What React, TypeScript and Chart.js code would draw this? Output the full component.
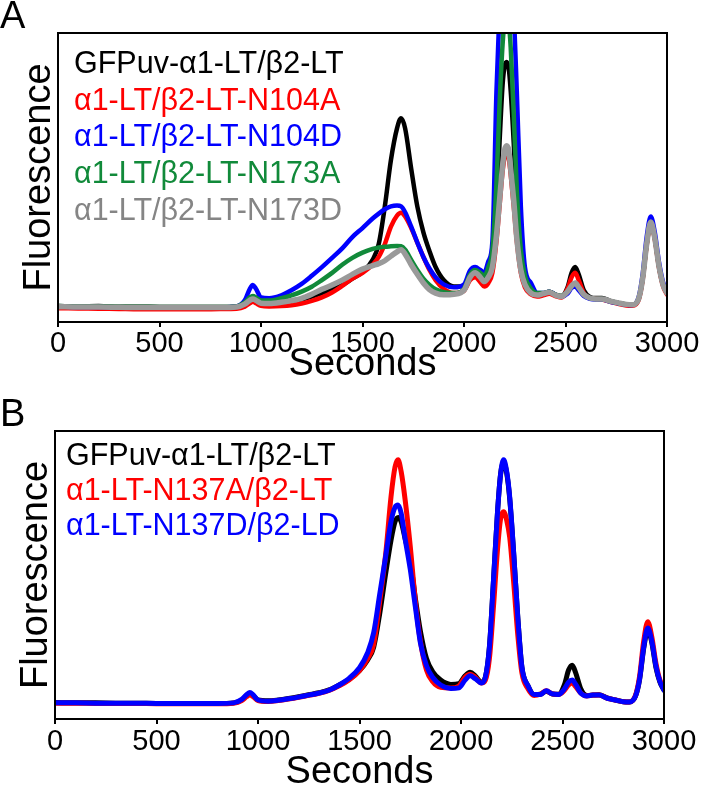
import React, { useEffect, useRef } from "react";
import { Chart, registerables } from "chart.js";

Chart.register(...registerables);

const FONT = "'Liberation Sans', Arial, sans-serif";

// ---------- Panel A ----------
const secondsA = [
  0, 100, 200, 300, 400, 500, 600, 700, 800,
  880, 920, 945, 960, 975,
  1000, 1040, 1100, 1150, 1200,
  1250, 1300, 1350, 1400, 1450,
  1500, 1550, 1580, 1610, 1640,
  1670, 1690, 1710, 1740, 1770,
  1800, 1830, 1860, 1900, 1950,
  2000, 2030, 2055, 2080, 2100,
  2120, 2140, 2160, 2175, 2190,
  2200, 2210, 2220, 2230, 2245,
  2260, 2280, 2300, 2330, 2360,
  2390, 2420, 2450, 2480, 2510,
  2530, 2548, 2565, 2590, 2620,
  2650, 2680, 2720, 2760, 2800,
  2830, 2860, 2880, 2900, 2920,
  2940, 2960, 2980, 3000,
];

const gfpA = [
  5.5, 5.4, 5.5, 5.3, 5.3, 5.2, 5.2, 5.2, 5.2,
  5.4, 6.5, 8.2, 8.8, 8.2,
  7.0, 6.8, 7.0, 7.4, 7.8,
  8.8, 10.0, 11.4, 12.8, 15.0,
  17.3, 21.5, 27.0, 40.0, 56.0,
  67.0, 70.5, 67.0, 53.0, 40.0,
  31.0, 24.5, 19.0, 14.5, 12.3,
  12.5, 17.0, 18.7, 17.5, 15.8,
  17.0, 22.0, 40.0, 62.0, 82.0,
  88.5, 90.0, 88.0, 80.0, 62.0,
  40.0, 22.0, 15.0, 11.0, 9.5,
  9.8, 10.5, 9.5, 9.0, 12.0,
  17.0, 19.0, 16.5, 11.0, 8.7,
  8.3, 8.3, 7.3, 6.6, 6.1,
  6.0, 8.0, 15.0, 27.0, 34.6,
  29.0, 19.5, 13.0, 10.0,
];

const n104aA = [
  4.8, 4.7, 4.6, 4.5, 4.4, 4.4, 4.4, 4.4, 4.5,
  4.6, 5.3, 6.5, 7.0, 6.5,
  5.6, 5.4, 5.5, 5.8, 6.4,
  7.3, 8.5, 10.2, 12.5, 15.0,
  17.0, 19.8, 22.5, 27.0, 33.0,
  36.8, 37.8, 36.5, 32.5, 27.5,
  22.5, 18.0, 14.5, 11.5, 10.0,
  10.8, 14.5, 15.5, 13.8, 12.3,
  13.5, 17.0, 28.0, 40.0, 52.0,
  57.0, 58.5, 57.0, 51.0, 40.0,
  28.0, 17.0, 12.0, 9.5, 8.8,
  9.2, 9.8, 9.0, 8.5, 11.5,
  15.5, 17.0, 14.5, 10.0, 8.2,
  8.0, 7.8, 7.0, 6.3, 5.7,
  5.6, 7.5, 14.5, 26.5, 34.3,
  28.5, 19.0, 12.5, 9.5,
];

const n104dA = [
  5.3, 5.2, 5.2, 5.1, 5.0, 5.0, 5.0, 5.0, 5.1,
  5.4, 7.5, 11.5, 12.8, 11.5,
  8.5, 8.2, 9.2, 11.0, 13.2,
  16.0, 19.0, 22.2, 25.5, 29.4,
  32.5, 35.8, 37.5, 39.0, 40.0,
  40.3, 40.0, 38.0, 33.0, 27.5,
  22.5, 18.5, 15.5, 13.0, 12.0,
  13.0, 17.8, 19.0, 18.0, 17.0,
  21.0, 28.0, 80.0, 108.0, 125.0,
  133.0, 135.0, 133.0, 125.0, 108.0,
  80.0, 40.0, 19.0, 13.5, 10.0,
  10.0, 10.5, 9.5, 8.8, 9.8,
  11.8, 12.3, 11.0, 9.0, 8.0,
  7.8, 7.8, 7.0, 6.5, 6.0,
  5.9, 8.5, 16.5, 29.5, 36.5,
  31.0, 21.0, 14.0, 10.5,
];

const n173aA = [
  5.5, 5.4, 5.4, 5.3, 5.3, 5.2, 5.2, 5.2, 5.2,
  5.4, 6.8, 8.5, 9.0, 8.5,
  7.4, 7.4, 8.2, 9.2, 10.5,
  12.2, 14.5, 17.0, 19.8, 22.2,
  24.0, 25.3, 25.8, 26.0, 26.2,
  26.3, 26.2, 25.0, 21.5, 18.0,
  15.0, 12.8, 11.3, 10.3, 10.0,
  11.5, 16.5, 18.0, 17.0, 16.0,
  19.0, 25.0, 48.0, 75.0, 96.0,
  104.0, 106.0, 104.0, 95.0, 72.0,
  46.0, 25.0, 16.0, 11.5, 10.0,
  10.0, 10.5, 9.5, 9.0, 10.5,
  12.5, 13.5, 12.0, 9.5, 8.3,
  8.0, 8.0, 7.2, 6.6, 6.1,
  6.0, 8.0, 15.0, 27.0, 34.6,
  29.0, 19.5, 13.0, 10.0,
];

const n173dA = [
  5.3, 5.2, 5.2, 5.1, 5.0, 5.0, 5.0, 5.0, 5.0,
  5.2, 6.2, 7.5, 8.0, 7.5,
  6.5, 6.4, 6.8, 7.4, 8.2,
  9.6, 11.3, 12.8, 14.5, 16.5,
  18.3, 19.5, 20.2, 21.2, 22.8,
  24.3, 25.0, 23.5, 19.8, 16.5,
  13.5, 11.2, 10.0, 9.4, 9.6,
  11.0, 15.5, 17.0, 15.5, 14.0,
  15.5, 19.0, 30.0, 42.0, 54.0,
  59.5, 61.0, 59.5, 53.0, 42.0,
  29.0, 18.0, 13.0, 10.0, 9.3,
  9.8, 10.3, 9.3, 8.8, 10.5,
  12.5, 13.5, 12.0, 9.5, 8.3,
  8.0, 8.0, 7.2, 6.6, 6.1,
  6.0, 8.0, 15.0, 27.0, 34.6,
  29.0, 19.5, 13.0, 10.0,
];

const labelsA = [
  "GFPuv-\u03b11-LT/\u03b22-LT",
  "\u03b11-LT/\u03b22-LT-N104A",
  "\u03b11-LT/\u03b22-LT-N104D",
  "\u03b11-LT/\u03b22-LT-N173A",
  "\u03b11-LT/\u03b22-LT-N173D",
];

// ---------- Panel B ----------
const secondsB = [
  0, 100, 200, 300, 400, 500, 600, 700, 800,
  880, 920, 945, 960, 975,
  1000, 1050, 1100, 1150, 1200,
  1250, 1300, 1350, 1400, 1450,
  1500, 1540, 1570, 1600, 1630,
  1655, 1675, 1690, 1705, 1725,
  1750, 1775, 1800, 1830, 1860,
  1900, 1950, 1990, 2020, 2045,
  2070, 2100, 2120, 2140, 2160,
  2180, 2195, 2210, 2225, 2240,
  2260, 2280, 2300, 2330, 2360,
  2390, 2420, 2450, 2480, 2510,
  2530, 2548, 2565, 2590, 2620,
  2650, 2680, 2720, 2760, 2800,
  2830, 2860, 2880, 2900, 2920,
  2940, 2960, 2980, 3000,
];

const gfpB = [
  5.7, 5.6, 5.6, 5.5, 5.5, 5.4, 5.4, 5.4, 5.4,
  5.6, 6.6, 8.2, 8.8, 8.2,
  6.6, 6.3, 6.6, 7.1, 7.7,
  8.4, 9.1, 10.1, 11.8, 13.8,
  16.8, 20.5, 25.0, 36.8, 51.0,
  62.0, 68.5, 70.0, 68.5, 62.5,
  55.0, 42.0, 30.5, 21.0, 16.5,
  13.5, 12.0, 12.3, 15.0, 16.2,
  15.0, 12.8, 14.5, 25.0, 48.0,
  72.0, 85.0, 89.0, 85.5, 76.5,
  57.0, 35.0, 18.0, 11.5, 8.5,
  8.6, 9.6, 8.7, 8.6, 12.0,
  17.0, 18.7, 16.0, 10.5, 8.2,
  8.3, 8.4, 7.3, 6.6, 6.0,
  5.9, 8.0, 13.8, 24.5, 31.0,
  26.5, 18.0, 12.8, 10.0,
];

const n137aB = [
  5.5, 5.5, 5.4, 5.4, 5.4, 5.3, 5.3, 5.3, 5.3,
  5.5, 6.4, 7.8, 8.4, 7.8,
  6.4, 6.1, 6.4, 6.9, 7.5,
  8.2, 8.9, 9.9, 11.5, 13.6,
  16.8, 21.0, 26.0, 41.0, 58.0,
  77.0, 87.5, 90.0, 86.0, 76.0,
  60.0, 41.0, 27.0, 17.0, 13.0,
  11.0, 10.8, 11.5, 14.5, 15.5,
  14.5, 12.5, 13.5, 21.0, 39.0,
  59.0, 69.5, 72.0, 69.0, 63.0,
  47.0, 29.0, 16.0, 10.5, 8.2,
  8.6, 9.8, 8.7, 8.5, 10.0,
  11.8, 12.5, 11.2, 9.0, 8.0,
  8.3, 8.3, 7.2, 6.6, 6.0,
  5.9, 8.3, 15.0, 27.0, 33.8,
  28.5, 19.5, 13.5, 10.5,
];

const n137dB = [
  5.6, 5.6, 5.5, 5.5, 5.5, 5.4, 5.4, 5.4, 5.4,
  5.6, 6.8, 8.5, 9.2, 8.5,
  6.6, 6.2, 6.5, 7.0, 7.6,
  8.3, 9.0, 10.0, 11.8, 14.2,
  17.8, 23.0, 30.0, 43.5, 57.0,
  68.5, 73.5, 74.3, 71.5, 62.5,
  52.0, 39.0, 26.5, 18.5, 14.5,
  11.8, 10.6, 10.8, 13.5, 15.0,
  14.0, 12.5, 14.5, 25.0, 48.0,
  72.0, 85.0, 90.0, 86.0, 77.0,
  57.0, 35.0, 18.0, 11.5, 8.5,
  8.5, 9.8, 8.7, 8.5, 10.5,
  12.8, 13.5, 12.0, 9.0, 8.0,
  8.3, 8.3, 7.2, 6.6, 6.0,
  5.9, 8.0, 14.0, 25.0, 31.6,
  27.0, 18.5, 13.0, 10.0,
];

const labelsB = [
  "GFPuv-\u03b11-LT/\u03b22-LT",
  "\u03b11-LT-N137A/\u03b22-LT",
  "\u03b11-LT-N137D/\u03b22-LD",
];

const xTicks = [0, 500, 1000, 1500, 2000, 2500, 3000];

const BLACK = "#000000";
const RED = "#ff0000";
const BLUE = "#0000ff";
const GREEN = "#118a3a";
const GRAY = "#9a9a9a";
const GRAY_TEXT = "#858585";

const framePlugin = {
  id: "frameLegend",
  afterDraw(chart: any, _args: any, opts: any) {
    const { ctx, chartArea: a } = chart;
    ctx.save();
    ctx.strokeStyle = "#000";
    ctx.lineWidth = 2;
    ctx.strokeRect(a.left, a.top, a.right - a.left, a.bottom - a.top);
    ctx.font = `${opts.fontSize}px ${FONT}`;
    ctx.textAlign = "left";
    ctx.textBaseline = "alphabetic";
    const texts: string[] = opts.texts;
    const colors: string[] = opts.colors;
    for (let i = 0; i < texts.length; i++) {
      ctx.fillStyle = colors[i];
      ctx.fillText(texts[i], a.left + opts.dx, a.top + opts.y0 + i * opts.step);
    }
    ctx.restore();
  },
};

function toPoints(xs: number[], ys: number[]) {
  return xs.map((x, i) => ({ x, y: ys[i] }));
}

function makeConfig(p: any) {
  return {
    type: "line",
    data: {
      datasets: p.series.map((s: any) => ({
        label: s.label,
        data: toPoints(p.xs, s.values),
        borderColor: s.color,
        backgroundColor: s.color,
        borderWidth: s.width,
        pointRadius: 0,
        fill: false,
        cubicInterpolationMode: "monotone",
        borderJoinStyle: "round",
        borderCapStyle: "round",
        order: s.order,
      })),
    },
    options: {
      responsive: false,
      animation: false,
      events: [],
      layout: { padding: p.padding },
      scales: {
        x: {
          type: "linear",
          min: 0,
          max: 3000,
          afterBuildTicks: (scale: any) => {
            scale.ticks = xTicks.map((v) => ({ value: v }));
          },
          afterFit: (scale: any) => {
            scale.height = p.xHeight;
          },
          ticks: {
            autoSkip: false,
            maxRotation: 0,
            minRotation: 0,
            color: "#000",
            padding: p.tickPad,
            font: { family: FONT, size: 29 },
            callback: (v: any) => String(v),
          },
          grid: {
            display: true,
            drawOnChartArea: false,
            drawTicks: true,
            tickLength: 5,
            color: "#000",
            lineWidth: 2,
          },
          border: { display: true, color: "#000", width: 2 },
          title: {
            display: true,
            text: "Seconds",
            color: "#000",
            font: { family: FONT, size: 38, lineHeight: 0.6 },
            padding: { top: 0, bottom: p.xTitlePad },
          },
        },
        y: {
          type: "linear",
          min: 0,
          max: 100,
          afterFit: (scale: any) => {
            scale.width = p.yWidth;
          },
          ticks: { display: false },
          grid: { display: false },
          border: { display: true, color: "#000", width: 2 },
          title: {
            display: true,
            text: "Fluorescence",
            color: "#000",
            font: { family: FONT, size: 38, lineHeight: 0.6 },
            padding: { top: p.yTitlePad, bottom: 0 },
          },
        },
      },
      plugins: {
        legend: { display: false },
        tooltip: { enabled: false },
        title: {
          display: true,
          text: p.letter,
          align: "start",
          color: "#000",
          font: { family: FONT, size: 38, weight: "normal", lineHeight: 0.8 },
          padding: 0,
        },
        frameLegend: p.legend,
      },
    },
    plugins: [framePlugin],
  };
}

function Panel({ config, top, height }: { config: any; top: number; height: number }) {
  const ref = useRef<HTMLCanvasElement>(null);
  useEffect(() => {
    const chart = new Chart(ref.current as HTMLCanvasElement, config);
    return () => chart.destroy();
  }, []);
  return (
    <canvas
      ref={ref}
      width={702}
      height={height}
      style={{ position: "absolute", left: 0, top, width: 702, height, display: "block" }}
    />
  );
}

const configA = makeConfig({
  letter: "A",
  xs: secondsA,
  padding: { top: 2.6, right: 35, bottom: 0, left: 0 },
  xHeight: 68,
  yWidth: 58,
  tickPad: 0,
  xTitlePad: 14,
  yTitlePad: 28.6,
  series: [
    { label: labelsA[0], values: gfpA, color: BLACK, width: 4.5, order: 4 },
    { label: labelsA[1], values: n104aA, color: RED, width: 4.5, order: 3 },
    { label: labelsA[2], values: n104dA, color: BLUE, width: 4.5, order: 2 },
    { label: labelsA[3], values: n173aA, color: GREEN, width: 4.5, order: 1 },
    { label: labelsA[4], values: n173dA, color: GRAY, width: 5.5, order: 0 },
  ],
  legend: {
    texts: labelsA,
    colors: [BLACK, RED, BLUE, GREEN, GRAY_TEXT],
    fontSize: 30.5,
    dx: 16,
    y0: 40,
    step: 36.7,
  },
});

const configB = makeConfig({
  letter: "B",
  xs: secondsB,
  padding: { top: 10.6, right: 38, bottom: 0, left: 0 },
  xHeight: 67,
  yWidth: 55,
  tickPad: 1,
  xTitlePad: 1.6,
  yTitlePad: 25.6,
  series: [
    { label: labelsB[0], values: gfpB, color: BLACK, width: 5, order: 2 },
    { label: labelsB[1], values: n137aB, color: RED, width: 5, order: 1 },
    { label: labelsB[2], values: n137dB, color: BLUE, width: 5, order: 0 },
  ],
  legend: {
    texts: labelsB,
    colors: [BLACK, RED, BLUE],
    fontSize: 30.5,
    dx: 11,
    y0: 34,
    step: 35,
  },
});

export default function App() {
  return (
    <div style={{ position: "absolute", left: 0, top: 0, width: 702, height: 786, background: "#fff" }}>
      <Panel config={configA} top={0} height={390} />
      <Panel config={configB} top={390} height={396} />
    </div>
  );
}
